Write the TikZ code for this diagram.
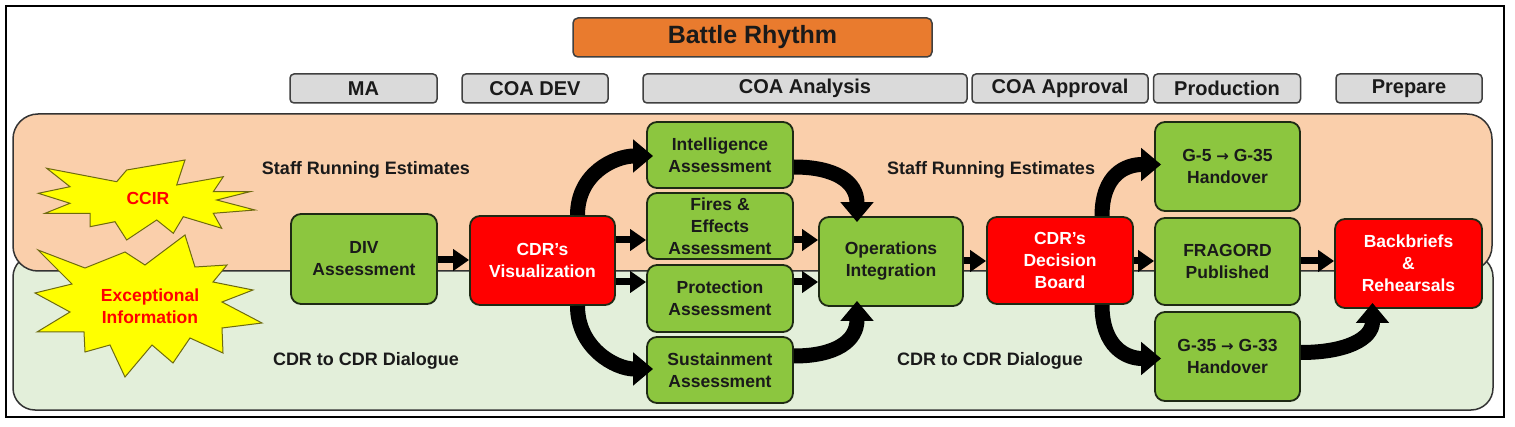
\documentclass[tikz,border=0pt]{standalone}
\usepackage{fontspec}
\setmainfont{Liberation Sans}
\newfontfamily\myarrowfont{DejaVu Sans}
\usetikzlibrary{arrows.meta,calc}
\definecolor{peach}{HTML}{FACFAB}
\definecolor{lgreen}{HTML}{E3EFDA}
\definecolor{ngreen}{HTML}{8CC63F}
\definecolor{nred}{HTML}{FF0000}
\definecolor{borange}{HTML}{E97B2E}
\definecolor{hgray}{HTML}{DADADA}
\definecolor{txt}{HTML}{1A1A1A}
\definecolor{edgec}{HTML}{1E2A14}
\definecolor{stary}{HTML}{FFFF00}
\definecolor{staredge}{HTML}{6E6A10}
\newcommand\mynodefont{\fontsize{17.5}{22}\selectfont\bfseries}
\newcommand\myhdrfont{\fontsize{20}{24}\selectfont\bfseries}
\newcommand\mybandfont{\fontsize{18}{22}\selectfont\bfseries}
\newcommand\myarr{{\myarrowfont\bfseries\fontsize{15}{22}\selectfont →}}
\tikzset{
  gbox/.style={draw=edgec, line width=1.8pt, fill=ngreen, rounded corners=10pt, align=center, font=\mynodefont, text=txt, inner sep=0pt},
  rbox/.style={gbox, fill=nred, text=white},
  hbox/.style={draw=black!75, line width=1.5pt, fill=hgray, rounded corners=4pt, font=\myhdrfont, text=txt, inner sep=0pt, minimum height=29pt},
  bandlbl/.style={font=\mybandfont, text=txt},
  startxt/.style={font=\mynodefont, text=nred, align=center},
  starsty/.style={draw=staredge, line width=1pt, fill=stary},
  sarrow/.style={line width=7pt, -{Triangle[length=16pt,width=21pt]}},
  carrow/.style={line width=15pt, -{Triangle[length=20pt,width=32pt]}}
}
\begin{document}
\begin{tikzpicture}[x=1pt,y=-1pt]
\useasboundingbox (0,0) rectangle (1515,427);
\fill[white] (0,0) rectangle (1515,427);
\draw[line width=2pt, black] (6,6) rectangle (1504,417);
% bands
\draw[draw=black!80, line width=1.5pt, fill=lgreen, rounded corners=22pt] (13,255) rectangle (1493,410);
\draw[draw=black!80, line width=1.5pt, fill=peach, rounded corners=25pt] (13,114) rectangle (1492,271);
\node[bandlbl] (sre1) at (366,170) {Staff Running Estimates};
\node[bandlbl] (sre2) at (991,170) {Staff Running Estimates};
\node[bandlbl] (cdr1) at (366,361) {CDR to CDR Dialogue};
\node[bandlbl] (cdr2) at (990,361) {CDR to CDR Dialogue};
% stars
\draw[starsty] (46.7,168.3) -- (116.7,181.7) -- (126.7,170) -- (185,160) -- (176.7,185) -- (223.3,176.7) -- (213.3,191.7) -- (250,191.7) -- (216.7,200) -- (255,210) -- (213.3,213.3) -- (221.7,228.3) -- (183.3,216.7) -- (173.3,233.3) -- (156.7,220) -- (126.7,240) -- (115,221.7) -- (90,226.7) -- (90,213.3) -- (45,213.3) -- (70,203.3) -- (38.3,193.3) -- (70,186.7) -- cycle;
\node[startxt] (ccir) at (148,198) {CCIR};
\draw[starsty] (38,250) -- (85,268) -- (125,252) -- (145,265) -- (185,235) -- (195,267) -- (227,265) -- (213,282) -- (253,290) -- (222,302) -- (262,323) -- (222,328) -- (223,353) -- (190,338) -- (173,363) -- (152,345) -- (125,377) -- (110,345) -- (85,352) -- (84,332) -- (37,332) -- (70,312) -- (35,293) -- (72,284) -- cycle;
\node[startxt] (exc) at (150,306) {Exceptional\\Information};
% title and headers
\node[draw=black!75, line width=1.5pt, fill=borange, rounded corners=5pt, minimum width=359pt, minimum height=39pt, font=\fontsize{25}{30}\selectfont\bfseries, text=txt] (br) at (752.5,37.5) {Battle Rhythm};
\node[hbox, minimum width=147pt] (hma) at (363.5,88.5) {MA};
\node[hbox, minimum width=146pt] (hdev) at (535,88.5) {COA DEV};
\node[hbox, minimum width=324pt] (hana) at (805,88.5) {COA Analysis};
\node[hbox, minimum width=176pt] (happ) at (1060,88.5) {COA Approval};
\node[hbox, minimum width=147pt] (hprod) at (1227,88.5) {Production};
\node[hbox, minimum width=146pt] (hprep) at (1409,88.5) {Prepare};
% process nodes
\node[gbox, minimum width=146pt, minimum height=90pt] (div) at (364,259) {DIV\\Assessment};
\node[rbox, minimum width=145pt, minimum height=89pt] (vis) at (542.5,260.5) {CDR's\\Visualization};
\node[gbox, minimum width=146pt, minimum height=66pt] (intel) at (720,155) {Intelligence\\Assessment};
\node[gbox, minimum width=146pt, minimum height=66pt] (fires) at (720,226) {Fires \&\\Effects\\Assessment};
\node[gbox, minimum width=146pt, minimum height=67pt] (prot) at (720,298.5) {Protection\\Assessment};
\node[gbox, minimum width=146pt, minimum height=66pt] (sust) at (720,370) {Sustainment\\Assessment};
\node[gbox, minimum width=144pt, minimum height=89pt] (ops) at (891,261.5) {Operations\\Integration};
\node[rbox, minimum width=146pt, minimum height=87pt] (dec) at (1060,260.5) {CDR's\\Decision\\Board};
\node[gbox, minimum width=145pt, minimum height=89pt] (g5) at (1227.5,166.5) {G-5 \myarr{} G-35\\Handover};
\node[gbox, minimum width=145pt, minimum height=87pt] (frag) at (1227.5,261.5) {FRAGORD\\Published};
\node[gbox, minimum width=145pt, minimum height=89pt] (g35) at (1227.5,356.5) {G-35 \myarr{} G-33\\Handover};
\node[rbox, minimum width=147pt, minimum height=89pt] (bb) at (1408.5,263.5) {Backbriefs\\\&\\Rehearsals};
% straight arrows
\draw[sarrow] (div.east |- 0,260) -- (vis.west |- 0,260);
\draw[sarrow] (vis.east |- 0,240) -- (fires.west |- 0,240);
\draw[sarrow] (vis.east |- 0,282) -- (prot.west |- 0,282);
\draw[sarrow] (fires.east |- 0,240) -- (ops.west |- 0,240);
\draw[sarrow] (prot.east |- 0,282) -- (ops.west |- 0,282);
\draw[sarrow] (ops.east |- 0,261) -- (dec.west |- 0,261);
\draw[sarrow] (dec.east |- 0,261) -- (frag.west |- 0,261);
\draw[sarrow] (frag.east |- 0,261) -- (bb.west |- 0,261);
% curved arrows
\draw[carrow] ($(vis.north)+(35,0)$) .. controls +(0,-42) and +(-38,0) .. ($(intel.west)+(7,1)$);
\draw[carrow] ($(vis.south)+(35,0)$) .. controls +(0,42) and +(-38,0) .. ($(sust.west)+(7,-1)$);
\draw[carrow] ($(intel.east)+(0,12)$) .. controls +(42,0) and +(0,-40) .. ($(ops.north)+(-34,6)$);
\draw[carrow] ($(sust.east)+(0,-14)$) .. controls +(42,0) and +(0,40) .. ($(ops.south)+(-34,-6)$);
\draw[carrow] ($(dec.north)+(42,0)$) .. controls +(0,-42) and +(-35,0) .. ($(g5.west)+(7,-2)$);
\draw[carrow] ($(dec.south)+(42,0)$) .. controls +(0,42) and +(-35,0) .. ($(g35.west)+(7,2)$);
\draw[carrow] ($(g35.east)+(0,-4)$) .. controls +(45,0) and +(0,36) .. ($(bb.south)+(-36,-6)$);
\end{tikzpicture}
\end{document}
